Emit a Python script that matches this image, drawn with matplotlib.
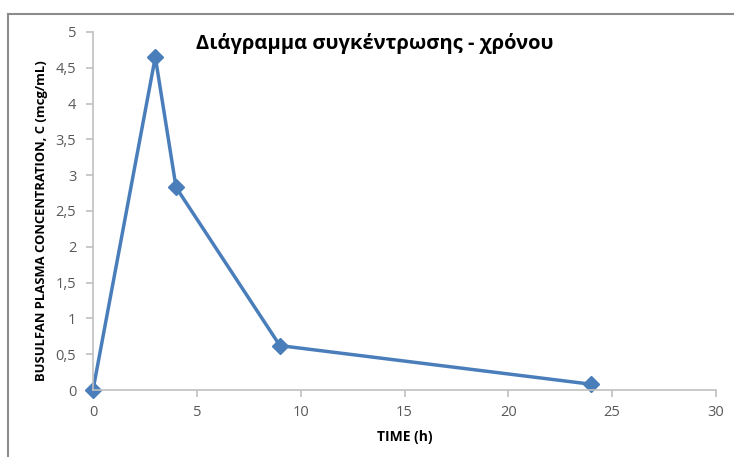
import matplotlib.pyplot as plt
from matplotlib.lines import Line2D
from matplotlib.ticker import FuncFormatter

# Data
time_h = [0, 3, 4, 9, 24]
conc = [0, 4.65, 2.83, 0.62, 0.08]
x_ticks = [0, 5, 10, 15, 20, 25, 30]
y_ticks = [0, 0.5, 1, 1.5, 2, 2.5, 3, 3.5, 4, 4.5, 5]

plt.rcParams['font.family'] = ['Open Sans', 'DejaVu Sans']

fig = plt.figure(figsize=(7.34, 4.57), dpi=100)
ax = fig.add_axes([93 / 734, 1 - 390 / 457, (716 - 93) / 734, (390 - 32) / 457])

blue = '#4a7ebb'
ax.plot(time_h, conc, color=blue, lw=2.5, marker='D', ms=8, mfc=blue, mec=blue, clip_on=False)

ax.set_xlim(0, 30)
ax.set_ylim(0, 5)
ax.set_xticks(x_ticks)
ax.set_yticks(y_ticks)
ax.yaxis.set_major_formatter(FuncFormatter(lambda v, p: ('%g' % v).replace('.', ',')))

for s in ['top', 'right']:
    ax.spines[s].set_visible(False)
for s in ['left', 'bottom']:
    ax.spines[s].set_color('#c0c0c0')
    ax.spines[s].set_linewidth(1.2)
ax.tick_params(colors='#c0c0c0', labelcolor='#595959', labelsize=10.5, length=5, width=1.2)
ax.tick_params(axis='y', pad=7)
ax.tick_params(axis='x', pad=6)

ax.set_xlabel('TIME (h)', fontsize=10, fontweight='bold', labelpad=7)
ax.set_ylabel('BUSULFAN PLASMA CONCENTRATION, C (mcg/mL)', fontsize=9.4, fontweight='bold')
ax.yaxis.set_label_coords(-0.072, 0.472)
fig.text(375 / 734, 1 - 44 / 457, 'Διάγραμμα συγκέντρωσης - χρόνου', ha='center', va='center',
         fontsize=14.5, fontweight='bold')

# chart area border (top and left edges visible)
fig.add_artist(Line2D([8 / 734, 1], [1 - 14 / 457] * 2, transform=fig.transFigure, color='#8c8c8c', lw=1.5))
fig.add_artist(Line2D([8 / 734] * 2, [0, 1 - 14 / 457], transform=fig.transFigure, color='#8c8c8c', lw=1.5))

fig.savefig('out.png', dpi=100)
